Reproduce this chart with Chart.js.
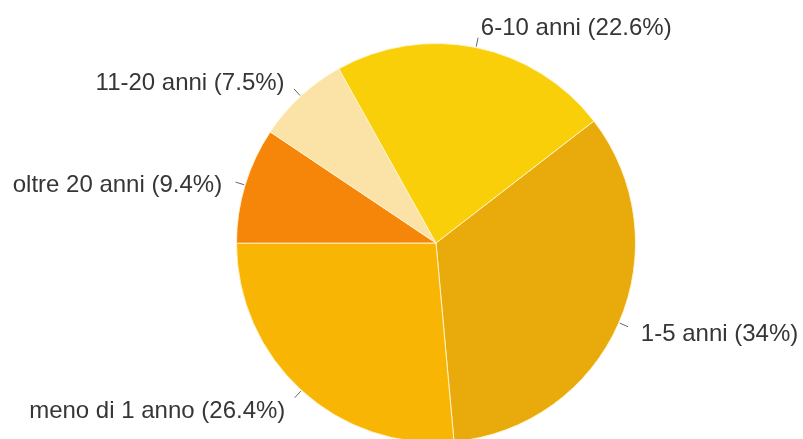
<!DOCTYPE html>
<html>
<head>
<meta charset="utf-8">
<script src="https://cdn.jsdelivr.net/npm/chart.js@4/dist/chart.umd.min.js"></script>
<style>
    html, body { margin: 0; padding: 0; background: #fff; overflow: hidden; }
    canvas { display: block; }
</style>
</head>
<body>
<canvas id="pieChart" width="803" height="460"></canvas>
<script>
// Dati del grafico
const categories = ['1-5 anni', 'meno di 1 anno', 'oltre 20 anni', '11-20 anni', '6-10 anni'];
const percentages = [34, 26.4, 9.4, 7.5, 22.6];
const percentLabels = ['34%', '26.4%', '9.4%', '7.5%', '22.6%'];
const sliceColors = ['#e8ab0b', '#f8b503', '#f6860a', '#fbe2a6', '#f8cf08'];

// Etichette esterne con linea di richiamo
const outerLabels = {
    id: 'outerLabels',
    afterDatasetsDraw(chart) {
        const ctx = chart.ctx;
        const meta = chart.getDatasetMeta(0);
        ctx.save();
        ctx.font = '24px "Liberation Sans", Arial, sans-serif';
        ctx.fillStyle = '#363636';
        ctx.strokeStyle = '#666';
        ctx.lineWidth = 1;
        ctx.textBaseline = 'middle';
        meta.data.forEach((arc, i) => {
            const { x, y, startAngle, endAngle, outerRadius } = arc.getProps(['x', 'y', 'startAngle', 'endAngle', 'outerRadius'], true);
            const mid = (startAngle + endAngle) / 2;
            const cos = Math.cos(mid), sin = Math.sin(mid);
            ctx.beginPath();
            ctx.moveTo(x + cos * (outerRadius + 1), y + sin * (outerRadius + 1));
            ctx.lineTo(x + cos * (outerRadius + 10), y + sin * (outerRadius + 10));
            ctx.stroke();
            const lx = x + cos * (outerRadius + 24);
            // le etichette in alto stanno un po' più in basso
            const ly = y + sin * (outerRadius + 28) + (sin < 0 ? 8 : 0);
            ctx.textAlign = cos >= 0 ? 'left' : 'right';
            ctx.fillText(`${categories[i]} (${percentLabels[i]})`, lx, ly);
        });
        ctx.restore();
    }
};

new Chart(document.getElementById('pieChart').getContext('2d'), {
    type: 'pie',
    data: {
        labels: categories,
        datasets: [{
            data: percentages,
            backgroundColor: sliceColors,
            borderColor: 'rgba(255, 244, 210, 0.9)',
            borderWidth: 1
        }]
    },
    options: {
        responsive: false,
        animation: false,
        rotation: 52.3,
        layout: { padding: { left: 236, right: 167, top: 43, bottom: 17 } },
        plugins: {
            legend: { display: false },
            tooltip: { enabled: false }
        }
    },
    plugins: [outerLabels]
});
</script>
</body>
</html>
